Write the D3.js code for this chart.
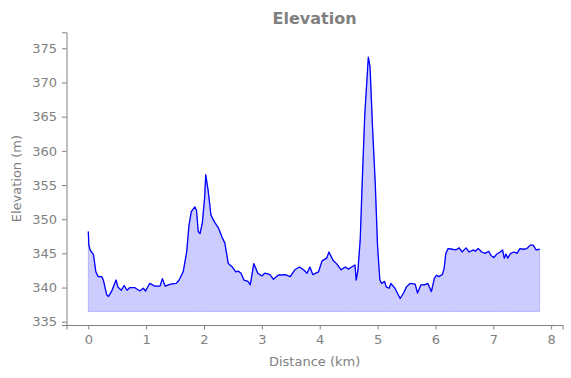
<!DOCTYPE html>
<html>
<head>
<meta charset="utf-8">
<script src="https://d3js.org/d3.v7.min.js"></script>
<style>
    body { margin: 0; background: white; }
    svg { display: block; font-family: "DejaVu Sans", sans-serif; }
</style>
</head>
<body>
<svg id="chart" width="571" height="378"></svg>
<script>
    // distance along the route (km)
    const distance = [
        0, 0.01, 0.03, 0.09, 0.13, 0.17, 0.23, 0.26, 0.32, 0.35, 0.40, 0.48, 0.51, 0.57, 0.62, 0.67, 0.72, 0.80,
        0.89, 0.95, 0.99, 1.06, 1.15, 1.24, 1.28, 1.33, 1.42, 1.52, 1.57, 1.64, 1.70, 1.74, 1.78, 1.84, 1.87,
        1.90, 1.93, 1.97, 2.01, 2.03, 2.07, 2.12, 2.18, 2.25, 2.31, 2.36, 2.42, 2.49, 2.55, 2.59, 2.64, 2.69,
        2.76, 2.80, 2.86, 2.93, 3.00, 3.05, 3.14, 3.20, 3.28, 3.40, 3.49, 3.57, 3.65, 3.72, 3.78, 3.83, 3.88,
        3.98, 4.04, 4.12, 4.16, 4.23, 4.29, 4.37, 4.44, 4.50, 4.55, 4.61, 4.63, 4.66, 4.70, 4.74, 4.78, 4.84,
        4.87, 4.91, 4.96, 5.00, 5.04, 5.07, 5.12, 5.15, 5.20, 5.23, 5.30, 5.39, 5.45, 5.50, 5.56, 5.65, 5.69,
        5.75, 5.81, 5.87, 5.93, 5.98, 6.02, 6.06, 6.12, 6.15, 6.18, 6.22, 6.30, 6.35, 6.41, 6.46, 6.53, 6.58,
        6.66, 6.69, 6.74, 6.80, 6.86, 6.92, 6.96, 7.01, 7.06, 7.12, 7.16, 7.19, 7.22, 7.25, 7.30, 7.36, 7.41,
        7.46, 7.52, 7.58, 7.64, 7.69, 7.74, 7.80
    ]
    // elevation at each point (m)
    const elevation = [
        348.2, 346.2, 345.5, 344.8, 342.3, 341.6, 341.6, 341.1, 338.9, 338.7, 339.4, 341.1, 340.1, 339.6, 340.3, 339.6, 340.0, 340.0,
        339.5, 339.9, 339.5, 340.6, 340.2, 340.2, 341.3, 340.2, 340.5, 340.6, 341.1, 342.3, 345.2, 349.1, 351.1, 351.8, 351.3,
        348.2, 347.9, 349.4, 353.1, 356.5, 354.3, 350.6, 349.6, 348.7, 347.4, 346.5, 343.5, 343.0, 342.3, 342.4, 342.1, 341.1,
        340.9, 340.4, 343.5, 342.1, 341.7, 342.1, 341.9, 341.2, 341.8, 341.9, 341.6, 342.6, 343.0, 342.6, 342.1, 343.0, 341.9,
        342.3, 343.9, 344.3, 345.2, 344.0, 343.5, 342.6, 343.0, 342.7, 343.0, 343.3, 341.1, 342.5, 347.0, 356.7, 365.5, 373.7,
        372.3, 364.0, 355.2, 346.0, 341.1, 340.6, 340.9, 340.1, 339.9, 340.6, 339.9, 338.4, 339.2, 340.1, 340.6, 340.5, 339.2,
        340.4, 340.4, 340.6, 339.4, 341.3, 341.8, 341.6, 341.9, 342.8, 345.0, 345.7, 345.6, 345.5, 345.8, 345.2, 345.8, 345.2,
        345.5, 345.3, 345.7, 345.2, 345.0, 345.3, 344.7, 344.4, 344.9, 345.2, 345.5, 344.3, 344.9, 344.3, 345.0, 345.2, 345.0,
        345.7, 345.6, 345.7, 346.2, 346.2, 345.5, 345.6
    ]
    const fillBase = 336.5
    const xTicks = [0, 1, 2, 3, 4, 5, 6, 7, 8]
    const yTicks = [335, 340, 345, 350, 355, 360, 365, 370, 375]

    const points = distance.map((d, i) => ({ km: d, m: elevation[i] }))

    const margin = { top: 32.3, bottom: 325, left: 66.5, right: 562.7 }
    const grey = "#808080"

    const svg = d3.select("#chart")

    const x = d3.scaleLinear().domain([-0.377, 8.2]).range([margin.left, margin.right])
    const y = d3.scaleLinear().domain([334.52, 377.34]).range([margin.bottom, margin.top])

    // filled area under the profile
    const area = d3.area()
        .x(d => x(d.km))
        .y0(y(fillBase))
        .y1(d => y(d.m))
    svg.append("path")
        .datum(points)
        .attr("d", area)
        .attr("fill", "blue")
        .attr("fill-opacity", 0.2)
        .attr("stroke", "blue")
        .attr("stroke-opacity", 0.2)
        .attr("stroke-width", 1)

    // profile line
    const line = d3.line().x(d => x(d.km)).y(d => y(d.m))
    svg.append("path")
        .datum(points)
        .attr("d", line)
        .attr("fill", "none")
        .attr("stroke", "blue")
        .attr("stroke-width", 1.3)
        .attr("stroke-linejoin", "round")

    // axes
    const xAxis = d3.axisBottom(x).tickValues(xTicks).tickSizeOuter(0).tickSize(4.5).tickPadding(5)
    const yAxis = d3.axisLeft(y).tickValues(yTicks).tickSizeOuter(0).tickSize(4.5).tickPadding(5)

    const gx = svg.append("g").attr("transform", `translate(0,${margin.bottom})`).call(xAxis)
    const gy = svg.append("g").attr("transform", `translate(${margin.left},0)`).call(yAxis)

    for (const g of [gx, gy]) {
        g.select(".domain").attr("stroke", grey)
        g.selectAll(".tick line").attr("stroke", grey)
        g.selectAll(".tick text")
            .attr("fill", grey)
            .style("font-size", "13px")
            .style("font-family", "DejaVu Sans, sans-serif")
    }

    // labels
    svg.append("text")
        .attr("x", (margin.left + margin.right) / 2)
        .attr("y", 24)
        .attr("text-anchor", "middle")
        .attr("fill", grey)
        .style("font-size", "16px")
        .style("font-weight", "bold")
        .text("Elevation")

    svg.append("text")
        .attr("x", (margin.left + margin.right) / 2)
        .attr("y", 366)
        .attr("text-anchor", "middle")
        .attr("fill", grey)
        .style("font-size", "13px")
        .text("Distance (km)")

    svg.append("text")
        .attr("transform", `translate(21,${(margin.top + margin.bottom) / 2}) rotate(-90)`)
        .attr("text-anchor", "middle")
        .attr("fill", grey)
        .style("font-size", "13px")
        .text("Elevation (m)")
</script>
</body>
</html>
